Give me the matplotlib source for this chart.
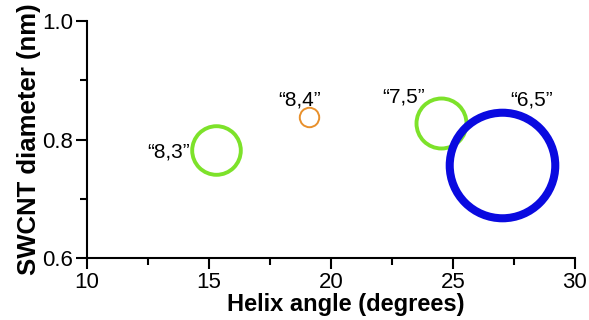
import matplotlib.pyplot as plt
from matplotlib.ticker import MultipleLocator, FormatStrFormatter

plt.rcParams['font.family'] = ['Liberation Sans', 'DejaVu Sans']

# chirality labels, helix angle (deg), diameter (nm)
labels = ['\u201c8,3\u201d', '\u201c8,4\u201d', '\u201c7,5\u201d', '\u201c6,5\u201d']
angles = [15.3, 19.1, 24.5, 27.0]
diameters = [0.782, 0.838, 0.828, 0.757]
# relative abundance -> circle size
abundance = [35, 14, 36, 76]
edge_widths = [2.8, 1.4, 2.8, 5.8]
colors = ['#7de22a', '#e8902c', '#7de22a', '#0a0ae0']

fig = plt.figure(figsize=(5.89, 3.2), dpi=100)
ax = fig.add_axes([0.148, 0.194, 0.828, 0.74])

for x, y, s, lw, c in zip(angles, diameters, abundance, edge_widths, colors):
    ax.plot(x, y, 'o', ms=s, mfc='none', mec=c, mew=lw, zorder=3)

# label offsets in points, relative to the circle centre
offsets = [(-19, -5), (-6.5, 8.6), (-11.5, 15), (5.8, 42.5)]
h_align = ['right', 'center', 'right', 'left']
for lab, x, y, off, ha in zip(labels, angles, diameters, offsets, h_align):
    ax.annotate(lab, (x, y), xytext=off, textcoords='offset points',
                ha=ha, va='baseline', fontsize=15)

ax.set_xlim(10, 30)
ax.set_ylim(0.6, 1.0)
ax.xaxis.set_major_locator(MultipleLocator(5))
ax.xaxis.set_minor_locator(MultipleLocator(2.5))
ax.yaxis.set_major_locator(MultipleLocator(0.2))
ax.yaxis.set_minor_locator(MultipleLocator(0.1))
ax.yaxis.set_major_formatter(FormatStrFormatter('%.1f'))

for side in ['top', 'right']:
    ax.spines[side].set_visible(False)
for side in ['left', 'bottom']:
    ax.spines[side].set_linewidth(1.5)
ax.tick_params(which='major', length=8, width=1.5, labelsize=16, pad=2)
ax.tick_params(which='minor', length=5, width=1.5)

ax.set_xlabel('Helix angle (degrees)', fontsize=17, fontweight='bold')
ax.xaxis.set_label_coords(0.531, -0.148)
ax.xaxis.label.set_va('top')
ax.set_ylabel('SWCNT diameter (nm)', fontsize=18.5, fontweight='bold', labelpad=1)

fig.savefig('out.png', dpi=100)
